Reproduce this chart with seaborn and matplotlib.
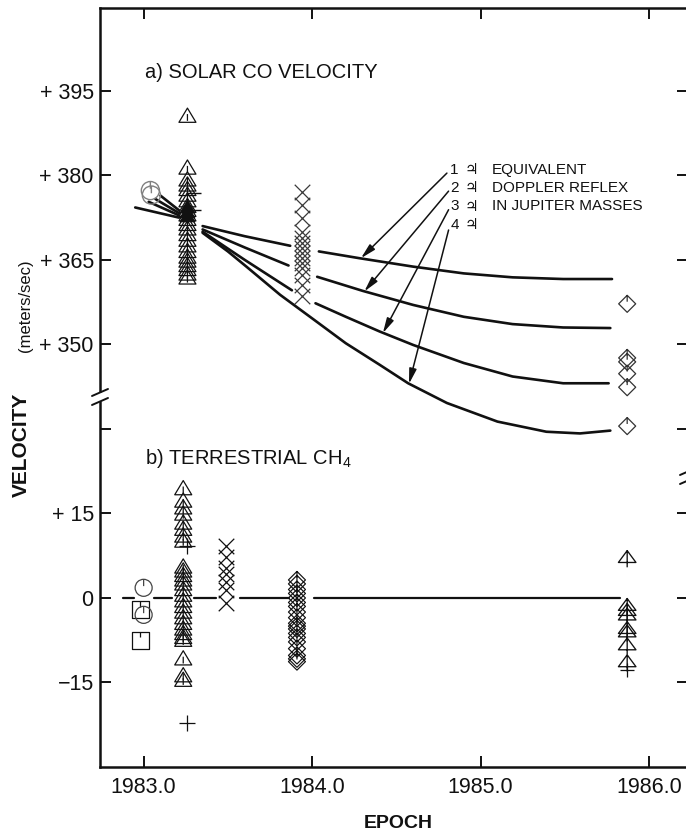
import numpy as np
import pandas as pd
import matplotlib
matplotlib.use("Agg")
import matplotlib.pyplot as plt
from matplotlib.path import Path
import seaborn as sns

nan = np.nan
OFFSET = 305.0   # broken axis: solar velocities are drawn shifted down by this amount

# ---------------- a) SOLAR CO VELOCITY (m/s) ----------------
solar_circle_epoch = [1983.040, 1983.046]
solar_circle_vel = [377.3, 376.5]
solar_tri_epoch = 1983.26
solar_tri_vel = [390.5, 381.3, 379.2, 378.3, 377.5, 376.5, 375.5, 374.5, 373.8,
                 373.0, 372.2, 371.3, 370.5, 369.5, 368.5, 367.5, 366.5, 365.5,
                 364.8, 364.0, 363.3, 362.5, 361.8]
solar_tri_filled_vel = [374.3, 373.5, 372.8]
solar_dash_epoch = 1983.30
solar_dash_vel = [376.8, 373.8]
solar_x_epoch = 1983.94
solar_x_vel = [377.1, 374.8, 372.4, 370.0, 368.9, 368.0, 367.1, 366.2, 365.3,
               364.4, 363.5, 362.3, 360.6, 358.5]
solar_diamond_epoch = 1985.87
solar_diamond_vel = [357.2, 347.6, 346.9, 344.8, 342.4, 335.5]

# reflex-motion curves for 1..4 Jupiter masses (NaN = gap in the drawn line)
curve1_epoch = [1982.95, 1983.21, nan, 1983.35, 1983.60, 1983.87, nan, 1984.04, 1984.28,
                1984.60, 1984.90, 1985.19, 1985.49, 1985.78]
curve1_vel = [374.3, 372.5, nan, 371.0, 369.2, 367.5, nan, 366.5, 365.3,
              363.8, 362.6, 361.9, 361.6, 361.6]
curve2_epoch = [1983.03, 1983.21, nan, 1983.35, 1983.60, 1983.86, nan, 1984.03, 1984.30,
                1984.60, 1984.90, 1985.19, 1985.49, 1985.77]
curve2_vel = [375.3, 372.9, nan, 370.4, 367.2, 364.0, nan, 362.0, 359.5,
              357.0, 354.9, 353.6, 353.0, 352.9]
curve3_epoch = [1983.07, 1983.21, nan, 1983.35, 1983.60, 1983.88, nan, 1984.02, 1984.20,
                1984.40, 1984.60, 1984.90, 1985.19, 1985.49, 1985.76]
curve3_vel = [375.8, 373.3, nan, 370.0, 365.0, 359.6, nan, 357.3, 354.9,
              352.3, 349.9, 346.7, 344.3, 343.1, 343.1]
curve4_epoch = [1983.10, 1983.21, nan, 1983.35, 1983.50, 1983.61, 1983.81, 1984.01,
                1984.20, 1984.40, 1984.57, 1984.80, 1985.10, 1985.39, 1985.59, 1985.77]
curve4_vel = [376.4, 373.8, nan, 369.8, 366.5, 363.8, 358.8, 354.4,
              350.2, 346.4, 343.1, 339.6, 336.3, 334.5, 334.2, 334.7]

legend_numbers = ["1", "2", "3", "4"]
legend_words = ["EQUIVALENT", "DOPPLER REFLEX", "IN JUPITER MASSES", ""]
legend_vel = [381.0, 377.8, 374.5, 371.2]
arrow_tail = [(1984.80, 380.4), (1984.81, 377.2), (1984.81, 373.9), (1984.81, 370.3)]
arrow_tip = [(1984.29, 365.3), (1984.31, 359.4), (1984.42, 352.0), (1984.575, 343.0)]

# ---------------- b) TERRESTRIAL CH4 (m/s) ----------------
terr_square_epoch = 1982.98
terr_square_vel = [-2.1, -7.5]
terr_circle_epoch = 1983.00
terr_circle_vel = [1.8, -3.0]
terr_tri_epoch = 1983.235
terr_tri_vel = [19.4, 17.2, 16.0, 14.9, 13.3, 12.2, 11.0, 10.1,
                5.5, 4.8, 4.0, 3.2, 2.5, 1.5, 0.5, -0.5, -1.5, -2.5, -3.5, -4.5,
                -5.5, -6.3, -7.0, -7.5, -10.8, -13.8, -14.6]
terr_plus_epoch = 1983.26
terr_plus_vel = [9.2, -22.2]
terr_x_epoch = 1983.49
terr_x_vel = [9.3, 7.2, 5.3, 4.2, 2.8, 1.4, -0.9]
terr_diamond_epoch = 1983.91
terr_diamond_vel = [3.2, 2.5, 1.5, 0.8, 0.0, -0.8, -1.5, -2.5, -3.5, -4.5, -5.0,
                    -5.5, -6.3, -7.0, -7.8, -9.0, -10.2, -10.8, -11.3]
terr_late_epoch = 1985.87
terr_late_tri_vel = [7.0, -1.5, -2.4, -3.2, -5.6, -6.2, -8.5, -11.5]
terr_late_plus_vel = [-12.8]
zero_epoch = [1982.88, 1982.94, nan, 1983.06, 1983.17, nan, 1983.30, 1983.43, nan,
              1983.57, 1983.86, nan, 1984.01, 1985.83]
zero_vel = [0, 0, nan, 0, 0, nan, 0, 0, nan, 0, 0, nan, 0, 0]

ytick_pos = [-15, 0, 15, 30, 45, 60, 75, 90]
ytick_lab = ["\u221215", "0", "+ 15", "", "+ 350", "+ 365", "+ 380", "+ 395"]
xtick_pos = [1983.0, 1984.0, 1985.0, 1986.0]
xtick_lab = ["1983.0", "1984.0", "1985.0", "1986.0"]

# ---------------- style ----------------
sns.set_theme(style="ticks")
plt.rcParams["font.family"] = ["Liberation Sans", "DejaVu Sans"]
plt.rcParams["mathtext.default"] = "regular"
INK = "#111111"

M, L, C = Path.MOVETO, Path.LINETO, Path.CLOSEPOLY
def P(verts, closed=False):
    codes = [M] + [L] * (len(verts) - 1)
    if closed:
        verts = list(verts) + [verts[0]]
        codes = codes + [C]
    return Path(verts, codes)

tri_tick = Path.make_compound_path(P([(-1, -0.72), (1, -0.72), (0, 0.95)], True),
                                   P([(0, -0.55), (0, 0.25)]))
tri_plus = Path.make_compound_path(P([(-1, -0.45), (1, -0.45), (0, 0.9)], True),
                                   P([(0, 0.9), (0, -1.0)]))
circ_tick = Path.make_compound_path(Path.unit_circle(), P([(0, 1), (0, 0.2)]))
diam_tick = Path.make_compound_path(P([(0, 1), (1, 0), (0, -1), (-1, 0)], True),
                                    P([(0, 1), (0, 0.25)]))
sq_tick = Path.make_compound_path(P([(-1, -1), (1, -1), (1, 1), (-1, 1)], True),
                                  P([(0, 1), (0, 0.35)]))
tri_plain = P([(-1, -0.72), (1, -0.72), (0, 0.95)], True)

fig = plt.figure(figsize=(6.86, 8.38), dpi=100)
ax = fig.add_axes([100 / 686, 1 - 767 / 838, 588 / 686, 759 / 838])


def curve_frame(epochs, vals, name, shift):
    rows, seg = [], 0
    for e, v in zip(epochs, vals):
        if np.isnan(e):
            seg += 1
            continue
        rows.append((f"{name}-{seg}", e, v - shift))
    return pd.DataFrame(rows, columns=["seg", "epoch", "y"])


curves = pd.concat([
    curve_frame(curve1_epoch, curve1_vel, "c1", OFFSET),
    curve_frame(curve2_epoch, curve2_vel, "c2", OFFSET),
    curve_frame(curve3_epoch, curve3_vel, "c3", OFFSET),
    curve_frame(curve4_epoch, curve4_vel, "c4", OFFSET),
])
sns.lineplot(data=curves, x="epoch", y="y", units="seg", estimator=None, sort=False,
             color=INK, lw=1.9, ax=ax, legend=False, zorder=2)
zero = curve_frame(zero_epoch, zero_vel, "z", 0.0)
sns.lineplot(data=zero, x="epoch", y="y", units="seg", estimator=None, sort=False,
             color=INK, lw=1.6, ax=ax, legend=False, zorder=2)


def pts(epoch, vals, marker, s, shift=0.0, ec=INK, fc="none", lw=0.9, z=4):
    vals = np.asarray(vals, float)
    d = pd.DataFrame({"epoch": np.broadcast_to(np.asarray(epoch, float), vals.shape),
                      "y": vals - shift})
    if isinstance(marker, str) and marker in ("x", "+", "_"):
        sns.scatterplot(data=d, x="epoch", y="y", marker=marker, s=s, color=ec,
                        linewidth=lw, ax=ax, zorder=z, legend=False)
    else:
        sns.scatterplot(data=d, x="epoch", y="y", marker=marker, s=s, color=ec,
                        facecolor=fc, edgecolor=ec, linewidth=lw, ax=ax, zorder=z,
                        legend=False)


# solar points
pts(solar_circle_epoch, solar_circle_vel, circ_tick, 170, OFFSET, ec="#808080", lw=1.0)
pts(solar_tri_epoch, solar_tri_vel, tri_tick, 150, OFFSET, lw=0.9)
pts(solar_tri_epoch, solar_tri_filled_vel, tri_plain, 110, OFFSET, fc=INK, lw=0.8)
pts(solar_dash_epoch, solar_dash_vel, "_", 110, OFFSET, lw=1.0)
pts(solar_x_epoch, solar_x_vel, "x", 125, OFFSET, ec="#3a3a3a", lw=0.9)
pts(solar_diamond_epoch, solar_diamond_vel, diam_tick, 150, OFFSET, ec="#333333", lw=0.9)

# terrestrial points
pts(terr_square_epoch, terr_square_vel, sq_tick, 150, lw=0.9)
pts(terr_circle_epoch, terr_circle_vel, circ_tick, 150, ec="#444444", lw=0.9)
pts(terr_tri_epoch, terr_tri_vel, tri_tick, 150, lw=0.9)
pts(terr_plus_epoch, terr_plus_vel, "+", 120, lw=0.9)
pts(terr_x_epoch, terr_x_vel, "x", 125, lw=0.9)
pts(terr_diamond_epoch, terr_diamond_vel, diam_tick, 150, lw=0.85)
pts(terr_late_epoch, terr_late_tri_vel, tri_plus, 160, lw=0.95)
pts(terr_late_epoch, terr_late_plus_vel, "+", 110, lw=0.9)

# legend-like annotation with arrows
for num, word, v in zip(legend_numbers, legend_words, legend_vel):
    y = v - OFFSET
    ax.text(1984.82, y, num, fontsize=11, ha="left", va="center", color=INK)
    ax.text(1984.905, y, "\u2643", fontsize=11, ha="left", va="center", color=INK,
            family=["DejaVu Sans"])
    ax.text(1985.065, y, word, fontsize=11, ha="left", va="center", color=INK)
for (tx, tv), (hx, hv) in zip(arrow_tail, arrow_tip):
    ax.annotate("", xy=(hx, hv - OFFSET), xytext=(tx, tv - OFFSET),
                arrowprops=dict(arrowstyle="-|>,head_length=0.9,head_width=0.22",
                                color=INK, lw=1.1, shrinkA=0, shrinkB=0,
                                mutation_scale=10), zorder=3)

ax.text((145 - 100) / 588, (767 - 72) / 759, "a) SOLAR CO VELOCITY", transform=ax.transAxes,
        fontsize=14.5, ha="left", va="center", color=INK)
ax.text((145 - 100) / 588, (767 - 458) / 759, "b) TERRESTRIAL CH$_4$", transform=ax.transAxes,
        fontsize=14.5, ha="left", va="center", color=INK)

# axes
ax.set_xlim(1982.741, 1986.231)
ax.set_ylim(-30.0, 104.7)
ax.set_xticks(xtick_pos)
ax.set_xticklabels(xtick_lab)
ax.set_yticks(ytick_pos)
ax.set_yticklabels(ytick_lab)
ax.tick_params(direction="in", length=8, width=1.4, top=True, right=True,
               labelsize=15.5, colors=INK, pad=7)
ax.tick_params(axis="y", pad=4.5)
for sp in ax.spines.values():
    sp.set_linewidth(1.8)
    sp.set_color(INK)
ax.set_xlabel("EPOCH", fontsize=14, fontweight="bold", color=INK)
ax.xaxis.set_label_coords(0.507, -0.075)
ax.xaxis.label.set_verticalalignment("center")
ax.set_ylabel("")
ax.text(-0.1344, 0.4242, "VELOCITY", transform=ax.transAxes, rotation=90, fontsize=15,
        fontweight="bold", ha="center", va="center", color=INK)
ax.text(-0.1267, 0.6074, "(meters/sec)", transform=ax.transAxes, rotation=90, fontsize=12,
        ha="center", va="center", color=INK)


def axis_break(xf, yf):
    dx, gap, rise = 8 / 588, 9 / 759, 3.5 / 759
    ax.plot([xf, xf], [yf - gap / 2, yf + gap / 2], transform=ax.transAxes, color="white",
            lw=3.5, clip_on=False, zorder=6, solid_capstyle="butt")
    for off in (-gap / 2, gap / 2):
        ax.plot([xf - dx, xf + dx], [yf + off - rise, yf + off + rise], transform=ax.transAxes,
                color=INK, lw=1.4, clip_on=False, zorder=7)


axis_break(0.0, 0.4875)
axis_break(1.0, 0.3834)

fig.savefig("out.png", dpi=100)
